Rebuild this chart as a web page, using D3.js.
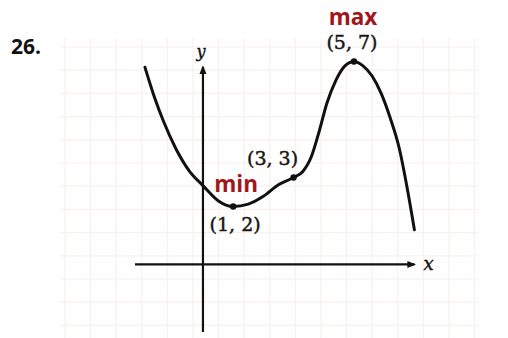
<!DOCTYPE html>
<html>
<head>
<meta charset="utf-8">
<script src="https://cdn.jsdelivr.net/npm/d3@7"></script>
<style>
  html, body { margin: 0; padding: 0; background: #fff; }
  svg { display: block; }
</style>
</head>
<body>
<svg id="chart" width="508" height="338"></svg>
<script>
// Sketch of f(x): samples along the curve
const curveX = [-1.92, -1.6, -1.3, -0.9, -0.45, 0, 0.5, 1, 1.5, 2, 2.5, 3, 3.3, 3.6, 3.85, 4.1, 4.4, 4.7, 5, 5.3, 5.6, 5.9, 6.2, 6.5, 6.75, 7];
const curveY = [6.8, 5.75, 4.92, 4.0, 3.22, 2.72, 2.2, 2.0, 2.08, 2.35, 2.75, 3.0, 3.2, 3.75, 4.6, 5.55, 6.35, 6.85, 7.0, 6.85, 6.5, 5.9, 5.05, 4.0, 2.7, 1.2];

// Labelled points
const pointX = [1, 3, 5];
const pointY = [2, 3, 7];
const pointLabels = ["(1, 2)", "(3, 3)", "(5, 7)"];

// Extremum tags
const tagNames = ["min", "max"];
const tagX = [1, 5];
const tagY = [2, 7];

// Axis extents (data units)
const xExtent = [-2.25, 7];
const yExtent = [-2.33, 6.81];

const svg = d3.select("#chart");
const W = 508, H = 338;

const x = d3.scaleLinear().domain(xExtent).range([135, 414.4]);
const y = d3.scaleLinear().domain(yExtent).range([332, 67]);

// Faint graph-paper grid behind the figure
const paper = svg.append("g").attr("class", "paper");
const gx = d3.range(0, 17).map(i => 65 + i * 25.6);
const gy = d3.range(0, 13).map(i => 47 + i * 23.2);
paper.selectAll("line.v").data(gx).join("line")
  .attr("x1", d => d).attr("x2", d => d)
  .attr("y1", 38).attr("y2", H)
  .attr("stroke", "#f9efed").attr("stroke-width", 1.2);
paper.selectAll("line.h").data(gy).join("line")
  .attr("x1", 60).attr("x2", 478)
  .attr("y1", d => d).attr("y2", d => d)
  .attr("stroke", "#f9efed").attr("stroke-width", 1.2);

// Arrowhead marker
const defs = svg.append("defs");
defs.append("marker")
  .attr("id", "arrow")
  .attr("viewBox", "0 0 10 10")
  .attr("refX", 8).attr("refY", 5)
  .attr("markerWidth", 4).attr("markerHeight", 4)
  .attr("orient", "auto")
  .append("path")
  .attr("d", "M0,1 L10,5 L0,9 Z")
  .attr("fill", "#111");

// Axes through the origin
svg.append("line")
  .attr("x1", x(xExtent[0])).attr("x2", x(xExtent[1]))
  .attr("y1", y(0)).attr("y2", y(0))
  .attr("stroke", "#111").attr("stroke-width", 2.2)
  .attr("marker-end", "url(#arrow)");
svg.append("line")
  .attr("x1", x(0)).attr("x2", x(0))
  .attr("y1", y(yExtent[0])).attr("y2", y(yExtent[1]))
  .attr("stroke", "#111").attr("stroke-width", 2.2)
  .attr("marker-end", "url(#arrow)");

svg.append("text")
  .attr("x", x(xExtent[1]) + 9).attr("y", y(0) + 6)
  .attr("font-family", "'DejaVu Serif', serif")
  .attr("font-style", "italic")
  .attr("font-size", 18)
  .attr("fill", "#111")
  .attr("stroke", "#111").attr("stroke-width", 0.4)
  .text("x");
svg.append("text")
  .attr("x", x(0) - 2).attr("y", y(yExtent[1]) - 10)
  .attr("text-anchor", "middle")
  .attr("font-family", "'DejaVu Serif', serif")
  .attr("font-style", "italic")
  .attr("font-size", 16)
  .attr("fill", "#111")
  .attr("stroke", "#111").attr("stroke-width", 0.4)
  .text("y");

// The curve
const pts = curveX.map((d, i) => [d, curveY[i]]);
svg.append("path")
  .datum(pts)
  .attr("d", d3.line().x(d => x(d[0])).y(d => y(d[1])).curve(d3.curveMonotoneX))
  .attr("fill", "none")
  .attr("stroke", "#111")
  .attr("stroke-width", 3)
  .attr("stroke-linecap", "round")
  .attr("stroke-linejoin", "round");

// Marked points
const marks = pointX.map((d, i) => ({ x: d, y: pointY[i], label: pointLabels[i] }));
svg.selectAll("circle.pt").data(marks).join("circle")
  .attr("cx", d => x(d.x)).attr("cy", d => y(d.y))
  .attr("r", 3.2).attr("fill", "#111");

// Coordinate labels
const labelPos = [
  { dx: 2, dy: 25 },   // below the minimum
  { dx: -21, dy: -12 },// up-left of the shoulder
  { dx: -2, dy: -12 }  // above the maximum
];
svg.selectAll("text.coord").data(marks).join("text")
  .attr("class", "coord")
  .attr("x", (d, i) => x(d.x) + labelPos[i].dx)
  .attr("y", (d, i) => y(d.y) + labelPos[i].dy)
  .attr("text-anchor", "middle")
  .attr("font-family", "'DejaVu Serif', serif")
  .attr("font-size", 19)
  .attr("fill", "#151515")
  .attr("stroke", "#151515").attr("stroke-width", 0.45)
  .text(d => d.label);

// min / max tags
const tagPos = [
  { dx: 3, dy: -14 },
  { dx: -1, dy: -36.5 }
];
const tags = tagNames.map((d, i) => ({ name: d, x: tagX[i], y: tagY[i] }));
svg.selectAll("text.tag").data(tags).join("text")
  .attr("class", "tag")
  .attr("x", (d, i) => x(d.x) + tagPos[i].dx)
  .attr("y", (d, i) => y(d.y) + tagPos[i].dy)
  .attr("text-anchor", "middle")
  .attr("font-family", "'Open Sans', sans-serif")
  .attr("font-weight", 700)
  .attr("font-size", 22.5)
  .attr("fill", "#a0161a")
  .text(d => d.name);

// Exercise number
svg.append("text")
  .attr("x", 11).attr("y", 54)
  .attr("font-family", "'Open Sans', sans-serif")
  .attr("font-weight", 700)
  .attr("font-size", 21)
  .attr("fill", "#111")
  .text("26.");
</script>
</body>
</html>
